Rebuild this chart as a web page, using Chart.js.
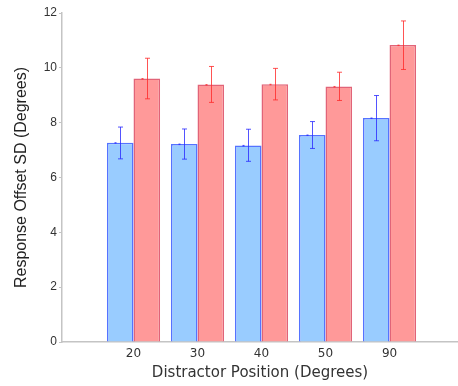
<!DOCTYPE html>
<html><head><meta charset="utf-8">
<script src="https://cdn.jsdelivr.net/npm/chart.js@4"></script>
<style>html,body{margin:0;padding:0;background:#fff}#wrap{width:458px;height:386px;position:relative}</style>
</head><body><div id="wrap"><canvas id="c" width="458" height="386"></canvas></div>
<script>
const categories = ['20', '30', '40', '50', '90'];
const blueMeans = [7.27, 7.22, 7.17, 7.55, 8.17];
const blueErrLow = [6.68, 6.67, 6.59, 7.06, 7.34];
const blueErrHigh = [7.84, 7.77, 7.76, 8.04, 8.99];
const redMeans = [9.61, 9.39, 9.40, 9.32, 10.83];
const redErrLow = [8.87, 8.74, 8.83, 8.81, 9.94];
const redErrHigh = [10.35, 10.05, 9.98, 9.84, 11.71];
const yTicks = [0, 2, 4, 6, 8, 10, 12];

const errorBars = {
  id: 'errorBars',
  afterDatasetsDraw(chart) {
    const ctx = chart.ctx;
    const ys = chart.scales.y;
    const sets = [
      {low: blueErrLow, high: blueErrHigh, mean: blueMeans, color: 'rgba(40,40,255,0.8)'},
      {low: redErrLow, high: redErrHigh, mean: redMeans, color: 'rgba(255,40,40,0.8)'}
    ];
    sets.forEach((s, di) => {
      const meta = chart.getDatasetMeta(di);
      meta.data.forEach((bar, i) => {
        const x = Math.round(bar.x) + 0.5;
        const yl = ys.getPixelForValue(s.low[i]);
        const yh = ys.getPixelForValue(s.high[i]);
        ctx.save();
        ctx.strokeStyle = s.color;
        ctx.lineWidth = 1;
        ctx.beginPath();
        ctx.moveTo(x, yl); ctx.lineTo(x, yh);
        ctx.moveTo(x - 2.5, yl); ctx.lineTo(x + 2.5, yl);
        ctx.moveTo(x - 2.5, yh); ctx.lineTo(x + 2.5, yh);
        ctx.stroke();
        ctx.fillStyle = s.color;
        const ym = ys.getPixelForValue(s.mean[i]);
        ctx.fillRect(x - 6, ym - 0.5, 2, 1.5);
        ctx.restore();
      });
    });
  }
};

new Chart(document.getElementById('c'), {
  type: 'bar',
  data: {
    datasets: [
      {data: blueMeans.map((v, i) => ({x: i, y: v})), backgroundColor: 'rgba(153,204,255,1)', borderColor: 'rgb(85,115,255)', borderWidth: 1.5},
      {data: redMeans.map((v, i) => ({x: i, y: v})), backgroundColor: 'rgba(255,153,153,1)', borderColor: 'rgb(225,100,120)', borderWidth: 1.5}
    ]
  },
  options: {
    responsive: false,
    animation: false,
    devicePixelRatio: 1,
    layout: {padding: {top: 13, right: 0, left: 0, bottom: 0}},
    plugins: {legend: {display: false}, tooltip: {enabled: false}},
    datasets: {bar: {categoryPercentage: 0.83, barPercentage: 1.0}},
    scales: {
      x: {
        type: 'linear', min: -1.117, max: 5.07, offset: false,
        afterBuildTicks(s) { s.ticks = categories.map((c, i) => ({value: i})); },
        afterFit(s) { s.height = 44; },
        ticks: {callback: (v) => categories[v], color: '#333', font: {family: 'DejaVu Sans', size: 12}, padding: -3, maxRotation: 0, autoSkip: false},
        grid: {display: false},
        border: {display: true, color: '#c4c4c4', width: 1.5},
        title: {display: true, text: 'Distractor Position (Degrees)', color: '#333', font: {family: 'DejaVu Sans', size: 15}, padding: {top: 6}}
      },
      y: {
        min: 0, max: 12,
        afterBuildTicks(s) { s.ticks = yTicks.map(v => ({value: v})); },
        afterFit(s) { s.width = 62; },
        ticks: {color: '#333', font: {family: 'Liberation Sans', size: 12}, padding: 2},
        grid: {display: true, drawOnChartArea: false, tickLength: 3, color: '#c4c4c4'},
        border: {display: true, color: '#c4c4c4', width: 1.5},
        title: {display: true, text: 'Response Offset SD (Degrees)', color: '#222', font: {family: 'Liberation Sans', size: 16}, padding: {top: 12, bottom: 0}}
      }
    }
  },
  plugins: [errorBars]
});
</script></body></html>
